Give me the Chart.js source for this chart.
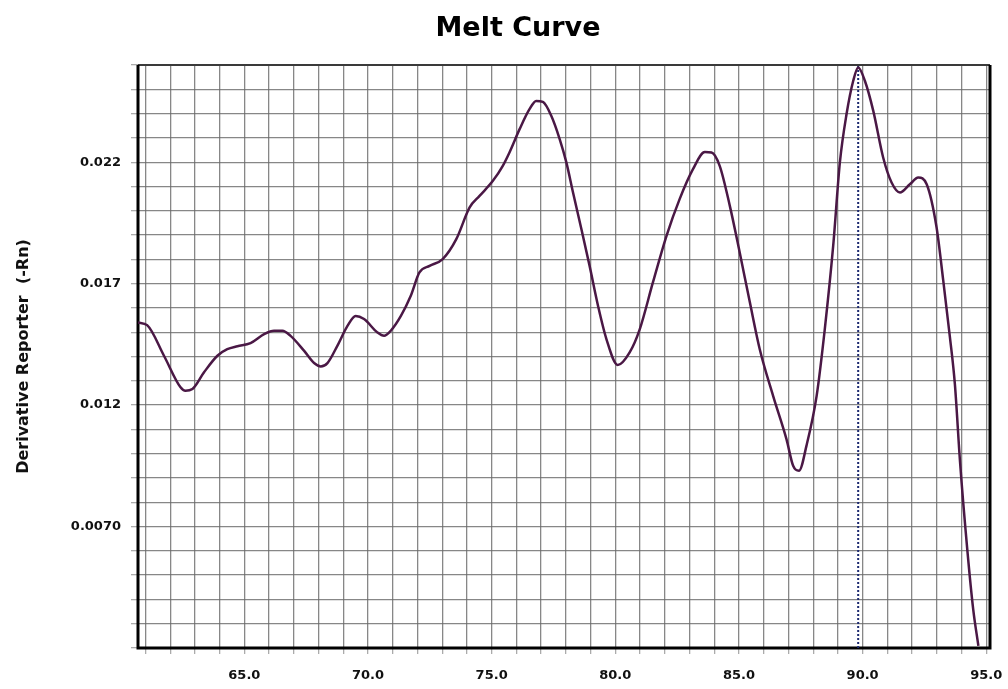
<!DOCTYPE html>
<html>
<head>
<meta charset="utf-8">
<title>Melt Curve</title>
<script src="https://cdn.jsdelivr.net/npm/chart.js@4.4.1/dist/chart.umd.min.js"></script>
<style>
  html, body { margin: 0; padding: 0; background: #ffffff; overflow: hidden; }
  #wrap { width: 1008px; height: 689px; position: relative; }
</style>
</head>
<body>
<div id="wrap"><canvas id="melt"></canvas></div>
<script>
// Temperature (°C) and derivative reporter (-Rn) samples of the melt curve
const temps = [
  60.70, 61.07, 61.75, 62.42, 62.62, 62.90, 63.37, 63.91, 64.31, 64.72,
  65.25, 65.80, 66.20, 66.54, 66.87, 67.42, 67.82, 68.09, 68.36, 68.76,
  69.17, 69.50, 69.84, 70.38, 70.65, 70.92, 71.33, 71.73, 72.08, 72.49,
  73.02, 73.57, 74.11, 74.51, 75.05, 75.45, 75.72, 76.13, 76.53, 76.80,
  77.07, 77.41, 77.75, 78.02, 78.29, 78.63, 78.96, 79.30, 79.64, 80.10,
  80.58, 80.99, 81.52, 82.07, 82.60, 83.14, 83.62, 83.89, 84.22, 84.63,
  85.03, 85.44, 85.84, 86.38, 86.92, 87.19, 87.43, 87.73, 88.14, 88.47,
  88.81, 89.08, 89.35, 89.62, 89.82, 90.09, 90.43, 90.83, 91.17, 91.51,
  91.91, 92.25, 92.59, 92.99, 93.26, 93.53, 93.73, 93.94, 94.23, 94.47,
  94.68
];
const derivative = [
  0.01540, 0.01529, 0.01403, 0.01273, 0.01259, 0.01266, 0.01335, 0.01403, 0.01430, 0.01442,
  0.01455, 0.01492, 0.01506, 0.01506, 0.01485, 0.01423, 0.01373, 0.01359, 0.01373, 0.01444,
  0.01526, 0.01567, 0.01554, 0.01499, 0.01485, 0.01506, 0.01567, 0.01650, 0.01746, 0.01773,
  0.01801, 0.01883, 0.02014, 0.02061, 0.02123, 0.02185, 0.02240, 0.02336, 0.02418, 0.02452,
  0.02448, 0.02391, 0.02295, 0.02199, 0.02075, 0.01924, 0.01773, 0.01609, 0.01472, 0.01365,
  0.01417, 0.01513, 0.01705, 0.01897, 0.02048, 0.02171, 0.02242, 0.02240, 0.02185, 0.02020,
  0.01828, 0.01623, 0.01430, 0.01238, 0.01060, 0.00950, 0.00930, 0.01033, 0.01238, 0.01513,
  0.01856, 0.02199, 0.02398, 0.02535, 0.02590, 0.02535, 0.02411, 0.02219, 0.02116, 0.02075,
  0.02109, 0.02137, 0.02109, 0.01931, 0.01712, 0.01479, 0.01286, 0.00964, 0.00607, 0.00360,
  0.00209
];

// Melting temperature marker (dotted vertical line)
const tmMarker = 89.82;

// Axis ranges and labelled ticks
const xRange = [60.7, 95.15];
const yRange = [0.002, 0.026];
const xLabelValues = [65, 70, 75, 80, 85, 90, 95];
const xLabelTexts = ['65.0', '70.0', '75.0', '80.0', '85.0', '90.0', '95.0'];
const yLabelValues = [0.022, 0.017, 0.012, 0.007];
const yLabelTexts = ['0.022', '0.017', '0.012', '0.0070'];

const curvePoints = temps.map((t, i) => ({ x: t, y: derivative[i] }));
const markerPoints = [{ x: tmMarker, y: yRange[0] }, { x: tmMarker, y: yRange[1] }];

function labelFor(value, vals, texts) {
  for (let i = 0; i < vals.length; i++) {
    if (Math.abs(value - vals[i]) < 1e-7) return texts[i];
  }
  return '';
}

// Frame around the plot area and the chart heading
const framePlugin = {
  id: 'frame',
  beforeDatasetsDraw(chart) {
    const { ctx, chartArea: a } = chart;
    ctx.save();
    ctx.strokeStyle = '#3a3a3a';
    ctx.lineWidth = 2;
    ctx.beginPath();
    ctx.moveTo(a.left, a.top);
    ctx.lineTo(a.right, a.top);
    ctx.stroke();
    ctx.strokeStyle = '#000000';
    ctx.lineWidth = 3;
    ctx.beginPath();
    ctx.moveTo(a.left, a.top);
    ctx.lineTo(a.left, a.bottom);
    ctx.lineTo(a.right, a.bottom);
    ctx.lineTo(a.right, a.top);
    ctx.stroke();
    ctx.restore();
  },
  afterDraw(chart) {
    const { ctx } = chart;
    ctx.save();
    ctx.fillStyle = '#000000';
    ctx.font = 'bold 27px "DejaVu Sans", sans-serif';
    ctx.textAlign = 'center';
    ctx.textBaseline = 'middle';
    ctx.fillText('Melt Curve', 518, 29);
    ctx.restore();
  }
};

new Chart(document.getElementById('melt'), {
  type: 'line',
  data: {
    datasets: [
      {
        label: 'Derivative',
        data: curvePoints,
        borderColor: '#4a1845',
        borderWidth: 2.5,
        pointRadius: 0,
        cubicInterpolationMode: 'monotone',
        fill: false,
        order: 1
      },
      {
        label: 'Tm',
        data: markerPoints,
        borderColor: '#1c2a70',
        borderWidth: 2,
        borderDash: [2, 2],
        pointRadius: 0,
        fill: false,
        order: 2
      }
    ]
  },
  options: {
    responsive: true,
    maintainAspectRatio: false,
    animation: false,
    layout: { padding: { top: 65, right: 18, left: 0, bottom: 0 } },
    plugins: {
      legend: { display: false },
      title: { display: false },
      tooltip: { enabled: false }
    },
    scales: {
      x: {
        type: 'linear',
        min: xRange[0],
        max: xRange[1],
        border: { display: false },
        grid: {
          color: 'rgba(105,105,105,0.8)',
          lineWidth: 1.3,
          tickLength: 6,
          tickColor: 'rgba(150,150,150,0.8)'
        },
        ticks: {
          stepSize: 1,
          includeBounds: false,
          autoSkip: false,
          maxRotation: 0,
          padding: 14,
          color: '#111111',
          font: { family: '"DejaVu Sans", sans-serif', size: 13, weight: 'bold' },
          callback: (v) => labelFor(v, xLabelValues, xLabelTexts)
        },
        afterFit(scale) {
          scale.height = 41;
          scale.paddingLeft = 0;
          scale.paddingRight = 0;
        }
      },
      y: {
        type: 'linear',
        min: yRange[0],
        max: yRange[1],
        border: { display: false },
        grid: {
          color: 'rgba(105,105,105,0.8)',
          lineWidth: 1.3,
          tickLength: 7,
          tickColor: 'rgba(150,150,150,0.8)'
        },
        ticks: {
          stepSize: 0.001,
          autoSkip: false,
          padding: 10,
          color: '#111111',
          font: { family: '"DejaVu Sans", sans-serif', size: 13, weight: 'bold' },
          callback: (v) => labelFor(v, yLabelValues, yLabelTexts)
        },
        title: {
          display: true,
          text: 'Derivative Reporter  (-Rn)',
          color: '#111111',
          font: { family: '"DejaVu Sans", sans-serif', size: 16, weight: 'bold' },
          padding: { top: 14, bottom: 0 }
        },
        afterFit(scale) {
          scale.width = 138;
          scale.paddingTop = 0;
          scale.paddingBottom = 0;
        }
      }
    }
  },
  plugins: [framePlugin]
});
</script>
</body>
</html>
